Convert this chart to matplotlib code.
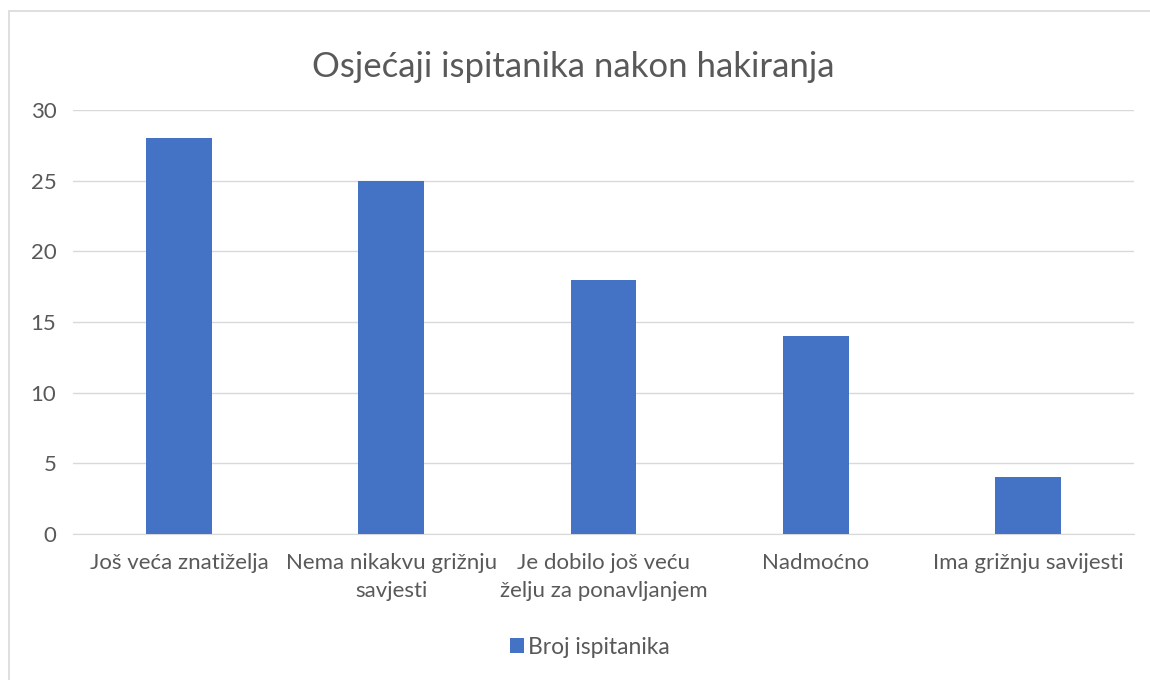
import matplotlib.pyplot as plt
import matplotlib.patches as patches
import numpy as np

categories = [
    "Još veća znatiželja",
    "Nema nikakvu grižnju\nsavjesti",
    "Je dobilo još veću\nželju za ponavljanjem",
    "Nadmoćno",
    "Ima grižnju savijesti",
]
values = [28, 25, 18, 14, 4]
series_name = "Broj ispitanika"
title = "Osjećaji ispitanika nakon hakiranja"

bar_color = "#4472C4"
text_color = "#595959"
grid_color = "#D9D9D9"

plt.rcParams["font.family"] = ["Lato", "DejaVu Sans"]

fig = plt.figure(figsize=(11.5, 6.8), dpi=100)
ax = fig.add_axes([73 / 1150, 1 - 534 / 680, (1134 - 73) / 1150, (534 - 110) / 680])

# outer chart border (right and bottom edges fall outside the image)
fig.patches.append(
    patches.Rectangle(
        (9 / 1150, -10 / 680), 1200 / 1150, 679 / 680,
        transform=fig.transFigure, fill=False, edgecolor=grid_color, linewidth=1.2,
    )
)

x = np.arange(len(categories))
ax.bar(x, values, width=0.31, color=bar_color, label=series_name, zorder=3)

ax.set_xlim(-0.5, len(categories) - 0.5)
ax.set_ylim(0, 30)
ax.set_yticks(range(0, 31, 5))
ax.set_xticks(x)
ax.set_xticklabels(categories, fontsize=16, color=text_color, linespacing=1.5)
ax.tick_params(axis="y", labelsize=16, labelcolor=text_color, length=0, pad=12)
ax.tick_params(axis="x", length=0, pad=14)
ax.grid(axis="y", color=grid_color, linewidth=1, zorder=0)
for side in ["top", "right", "left"]:
    ax.spines[side].set_visible(False)
ax.spines["bottom"].set_color(grid_color)

fig.text(573 / 1150, 1 - 67 / 680, title, ha="center", va="center", fontsize=25, color=text_color)

fig.legend(
    loc="center", bbox_to_anchor=(590 / 1150, 1 - 647 / 680), frameon=False,
    fontsize=16.5, labelcolor=text_color, handlelength=0.6, handleheight=0.6,
    handletextpad=0.2,
)

fig.savefig("out.png", dpi=100)
